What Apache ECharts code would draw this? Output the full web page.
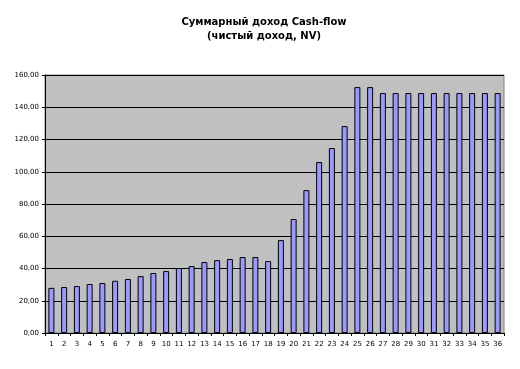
<!DOCTYPE html>
<html><head><meta charset="utf-8">
<script src="https://cdn.jsdelivr.net/npm/echarts@6/dist/echarts.min.js"></script>
<style>html,body{margin:0;padding:0;background:#fff}#c{width:520px;height:369px}</style>
</head><body><div id="c"></div>
<script>
const categories = ['1','2','3','4','5','6','7','8','9','10','11','12','13','14','15','16','17','18','19','20','21','22','23','24','25','26','27','28','29','30','31','32','33','34','35','36'];
const cashFlow = [28.0,28.5,29.1,30.4,31.0,32.4,33.5,35.3,37.2,38.4,40.3,41.5,44.0,45.2,45.9,47.1,47.1,44.6,57.6,70.7,88.6,106.0,114.7,128.3,152.5,152.5,148.8,148.8,148.8,148.8,148.8,148.8,148.8,148.8,148.8,148.8];
const titleLines = ['Суммарный доход Cash-flow', '(чистый доход, NV)'];

const chart = echarts.init(document.getElementById('c'), null, {renderer:'canvas'});
chart.setOption({
  animation:false,
  backgroundColor:'#fff',
  title:{text:titleLines.join('\n'), left:259, top:10, textAlign:'center',
    textStyle:{fontFamily:'DejaVu Sans', fontSize:10, fontWeight:'bold', color:'#000', lineHeight:14}},
  grid:{left:45, right:16, top:75, bottom:36, show:true, backgroundColor:'#c0c0c0', borderColor:'#808080', borderWidth:1},
  xAxis:{type:'category', data:categories,
    axisLine:{lineStyle:{color:'#000', width:1}},
    axisTick:{show:true, length:3, lineStyle:{color:'#000'}},
    axisLabel:{fontFamily:'DejaVu Sans', fontSize:7, color:'#000', margin:8, interval:0}},
  yAxis:{type:'value', min:0, max:160, interval:20,
    axisLine:{show:true, lineStyle:{color:'#000', width:1}},
    axisTick:{show:true, length:3, lineStyle:{color:'#000'}},
    splitLine:{show:true, lineStyle:{color:'#000', width:1}},
    axisLabel:{fontFamily:'DejaVu Sans', fontSize:7, color:'#000', margin:6,
      formatter:v=>v.toFixed(2).replace('.',',')}},
  series:[{type:'bar', data:cashFlow, barWidth:6,
    itemStyle:{color:'#9999ff', borderColor:'#000', borderWidth:1}}]
});
</script></body></html>
